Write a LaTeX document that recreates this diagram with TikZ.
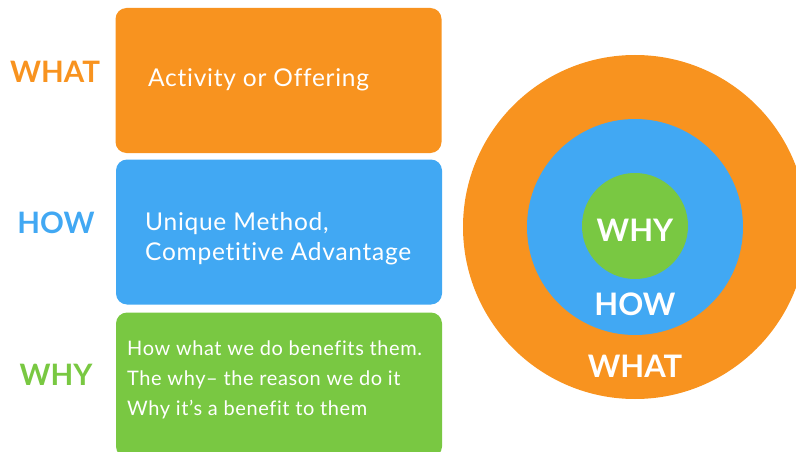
\documentclass[tikz,border=0pt]{standalone}
\usepackage{fontspec}
\setmainfont{Lato}
\newfontfamily\bodyfont[LetterSpace=3,Ligatures=NoCommon]{Lato}
\definecolor{whatorange}{HTML}{F8931F}
\definecolor{howblue}{HTML}{41A8F3}
\definecolor{whygreen}{HTML}{79C842}
\begin{document}
\begin{tikzpicture}[x=1pt,y=-1pt,
  band/.style={rounded corners=11pt,inner sep=0pt,minimum width=326pt,minimum height=145pt},
  sidelabel/.style={font=\fontsize{29.5}{31}\selectfont\bfseries,inner sep=0pt},
  boxtext/.style={text=white,font=\bodyfont\fontsize{24.5}{28}\selectfont,anchor=base west,inner sep=0pt},
  smalltext/.style={text=white,font=\bodyfont\fontsize{20}{24}\selectfont,anchor=base west,inner sep=0pt},
  ringtext/.style={text=white,font=\fontsize{31}{33}\selectfont\bfseries,inner sep=0pt}]
\useasboundingbox (0,0) rectangle (796,452);
\clip (0,0) rectangle (796,452);

% stacked bands
\node[band,fill=whatorange] (whatbox) at (278.5,80.5) {};
\node[band,fill=howblue]    (howbox)  at (279,232)   {};
\node[band,fill=whygreen]   (whybox)  at (279,385)   {};

% band texts
\node[boxtext] (whattxt) at (148,87) {Activity or Offering};
\node[boxtext] (howtxtA) at (145,230) {Unique Method,};
\node[boxtext] (howtxtB) at (145,260) {Competitive Advantage};
\node[smalltext] (whytxtA) at (127,355) {How what we do benefits them.};
\node[smalltext] (whytxtB) at (127,385) {The why– the reason we do it};
\node[smalltext] (whytxtC) at (127,415) {Why it’s a benefit to them};

% side labels
\node[sidelabel,text=whatorange] (whatlbl) at (55,72)  {WHAT};
\node[sidelabel,text=howblue]    (howlbl)  at (56,223) {HOW};
\node[sidelabel,text=whygreen]   (whylbl)  at (56,375) {WHY};

% golden circle
\node[circle,fill=whatorange,minimum size=344pt,inner sep=0pt] (outer) at (635,227) {};
\node[circle,fill=howblue,minimum size=216pt,inner sep=0pt] (middle) at (635,227) {};
\node[circle,fill=whygreen,minimum size=106pt,inner sep=0pt] (inner) at (635,226) {};
\node[ringtext] (whyring)  at (635,230) {WHY};
\node[ringtext] (howring)  at (635,304) {HOW};
\node[ringtext] (whatring) at (635,366) {WHAT};
\end{tikzpicture}
\end{document}
